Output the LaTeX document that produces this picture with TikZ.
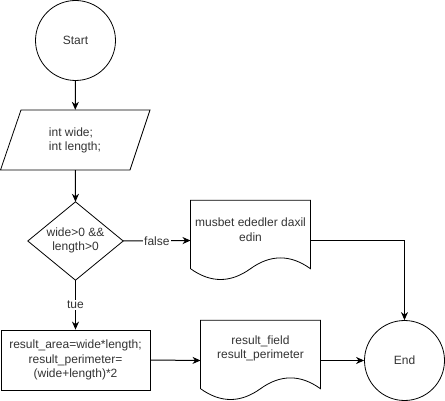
\documentclass[tikz,border=0pt]{standalone}
\usepackage{fontspec}
\setmainfont{Liberation Sans}
\usetikzlibrary{calc,arrows.meta}
\tikzset{
  every node/.style={font=\fontsize{12}{14.5}\selectfont, text=black!80},
  shapebox/.style={draw=none, minimum width=#1, inner sep=0pt},
  txt/.style={align=center, inner sep=0pt},
  conn/.style={draw=black, line width=1pt, -{Stealth[length=8pt,width=7pt,inset=2.5pt]}},
  outline/.style={draw=black, line width=0.8pt},
  lbl/.style={fill=white, inner sep=1pt},
}
\newcommand\docshape[1]{%
  \draw[outline] (#1.north west) -- (#1.north east) -- ($(#1.south east)+(0,-12)$)
    .. controls ($(#1.south east)+(-20,-26.4)$) and ($(#1.south)+(20,-26.4)$) .. ($(#1.south)+(0,-12)$)
    .. controls ($(#1.south)+(-20,2.4)$) and ($(#1.south west)+(20,2.4)$) .. ($(#1.south west)+(0,-12)$)
    -- cycle;}
\begin{document}
\begin{tikzpicture}[x=1pt,y=-1pt]
\useasboundingbox (0,0) rectangle (445,401);
% Start
\node[circle, outline, minimum size=80pt, inner sep=0pt] (start) at (75.5,40.5) {Start};
% input parallelogram
\node[shapebox=150pt, minimum height=60pt] (inp) at (75.25,140) {};
\draw[outline] (21,110) -- (150,110) -- (130,170) -- (0.5,170) -- cycle;
\node[align=left, inner sep=0pt] (inpt) at (75,140.5) {int wide;\\int length;};
% decision
\node[shapebox=95pt, minimum height=78pt] (dia) at (75.5,241) {};
\draw[outline] (dia.north) -- (dia.east) -- (dia.south) -- (dia.west) -- cycle;
\node[txt] (diat) at (75.5,240.5) {wide>0 \&\&\\length>0};
% document 1
\node[shapebox=119.5pt, minimum height=80pt] (doc1) at (250.5,240.5) {};
\docshape{doc1}
\node[txt] (doc1t) at (250.5,229.5) {musbet ededler daxil\\edin};
% process rectangle
\node[outline, minimum width=149pt, minimum height=60pt, inner sep=0pt] (proc) at (75.5,360) {};
\node[txt] (proct) at (75.5,360) {result\_area=wide*length;\\result\_perimeter=\\(wide+length)*2};
% document 2
\node[shapebox=119.5pt, minimum height=80pt] (doc2) at (260.5,360.5) {};
\docshape{doc2}
\node[txt] (doc2t) at (260.5,348.5) {result\_field\\result\_perimeter};
% End
\node[circle, outline, minimum size=80pt, inner sep=0pt] (end) at (404.5,360.5) {End};
% connectors
\draw[conn] (start.south) -- (inp.north);
\draw[conn] (inp.south) -- (dia.north);
\draw[conn] (dia.east) -- node[lbl, pos=0.5] (lf) {false} (doc1.west);
\draw[conn] (dia.south) -- node[lbl, pos=0.5] (lt) {tue} (proc.north);
\draw[conn] (proc.east) -- (doc2.west);
\draw[conn] (doc2.east) -- (end.west);
\draw[conn] (doc1.east) -| (end.north);
\end{tikzpicture}
\end{document}
